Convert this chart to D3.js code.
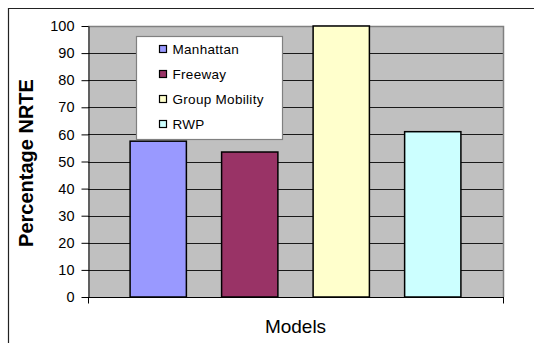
<!DOCTYPE html>
<html>
<head>
<meta charset="utf-8">
<script src="https://cdn.jsdelivr.net/npm/d3@7"></script>
<style>
  html, body { margin: 0; padding: 0; background: #fff; }
  svg { display: block; font-family: "Liberation Sans", Arial, sans-serif; }
</style>
</head>
<body>
<svg id="chart" width="534" height="343"></svg>
<script>
// Mobility models and their percentage NRTE
const models = ["Manhattan", "Freeway", "Group Mobility", "RWP"];
const nrte = [57.5, 53.5, 100, 61];
const barColors = ["#9999FF", "#993366", "#FFFFCC", "#CCFFFF"];
const yTicks = [0, 10, 20, 30, 40, 50, 60, 70, 80, 90, 100];
const xTitle = "Models";
const yTitle = "Percentage NRTE";

const svg = d3.select("#chart");
const plot = { left: 88, top: 26, right: 503, bottom: 297 };

// outer chart frame
svg.append("path")
  .attr("d", "M8.5,343 V8.5 H534")
  .attr("fill", "none").attr("stroke", "#222").attr("stroke-width", 1.2);

const x = d3.scaleBand()
  .domain(models)
  .range([plot.left, plot.right])
  .paddingInner(0.385)
  .paddingOuter(0.46);

const y = d3.scaleLinear()
  .domain([0, 100])
  .range([plot.bottom, plot.top]);

// plot background
svg.append("rect")
  .attr("x", plot.left).attr("y", plot.top)
  .attr("width", plot.right - plot.left).attr("height", plot.bottom - plot.top)
  .attr("fill", "#C0C0C0");

// horizontal gridlines
svg.append("g")
  .selectAll("line")
  .data(yTicks.filter(t => t > 0 && t < 100))
  .join("line")
  .attr("x1", plot.left).attr("x2", plot.right)
  .attr("y1", d => Math.round(y(d)) + 0.5).attr("y2", d => Math.round(y(d)) + 0.5)
  .attr("stroke", "#1a1a1a").attr("stroke-width", 1);

// plot border (top and right)
svg.append("path")
  .attr("d", `M${plot.left},${plot.top + 0.5} H${plot.right + 0.5} V${plot.bottom}`)
  .attr("fill", "none").attr("stroke", "#808080").attr("stroke-width", 1.5);

// bars
svg.append("g")
  .selectAll("rect")
  .data(models)
  .join("rect")
  .attr("x", d => x(d))
  .attr("y", (d, i) => y(nrte[i]))
  .attr("width", x.bandwidth())
  .attr("height", (d, i) => y(0) - y(nrte[i]))
  .attr("fill", (d, i) => barColors[i])
  .attr("stroke", "#000").attr("stroke-width", 1.5);

// y axis
const yAxis = svg.append("g")
  .attr("transform", `translate(${plot.left + 0.5},0)`)
  .call(d3.axisLeft(y).tickValues(yTicks).tickSize(7).tickPadding(7).tickSizeOuter(0));
yAxis.select(".domain").attr("stroke", "#000");
yAxis.selectAll(".tick line").attr("stroke", "#000");
yAxis.selectAll(".tick text")
  .attr("font-size", 14.5)
  .attr("font-family", "'Liberation Sans', Arial, sans-serif")
  .attr("fill", "#000");

// x axis line with boundary ticks
const xAxisG = svg.append("g").attr("transform", `translate(0,${plot.bottom + 0.5})`);
xAxisG.append("line")
  .attr("x1", plot.left).attr("x2", plot.right + 1)
  .attr("stroke", "#000");
xAxisG.selectAll("line.bt")
  .data(x.range())
  .join("line").attr("class", "bt")
  .attr("x1", d => d + 0.5).attr("x2", d => d + 0.5)
  .attr("y1", 0).attr("y2", 6)
  .attr("stroke", "#000");

// axis titles
svg.append("text")
  .attr("x", (plot.left + plot.right) / 2)
  .attr("y", 333)
  .attr("text-anchor", "middle")
  .attr("font-size", 19)
  .text(xTitle);

svg.append("text")
  .attr("transform", `translate(33,${163}) rotate(-90)`)
  .attr("text-anchor", "middle")
  .attr("font-size", 20)
  .attr("font-weight", "bold")
  .text(yTitle);

// legend
const legend = { x: 136, y: 36, w: 146, h: 103 };
const lg = svg.append("g");
lg.append("rect")
  .attr("x", legend.x + 0.5).attr("y", legend.y + 0.5)
  .attr("width", legend.w).attr("height", legend.h)
  .attr("fill", "#fff").attr("stroke", "#808080").attr("stroke-width", 1.2);

const rowY = d3.scalePoint()
  .domain(models)
  .range([legend.y + 13, legend.y + 88]);

const rows = lg.selectAll("g.row")
  .data(models)
  .join("g").attr("class", "row")
  .attr("transform", d => `translate(0,${rowY(d)})`);

rows.append("rect")
  .attr("x", 159.5).attr("y", -3.5)
  .attr("width", 7).attr("height", 7)
  .attr("fill", (d, i) => barColors[i])
  .attr("stroke", "#000").attr("stroke-width", 1.2);

rows.append("text")
  .attr("x", 172.5)
  .attr("y", 0)
  .attr("dy", "0.35em")
  .attr("font-size", 13.5)
  .attr("letter-spacing", 0.3)
  .text(d => d);
</script>
</body>
</html>
